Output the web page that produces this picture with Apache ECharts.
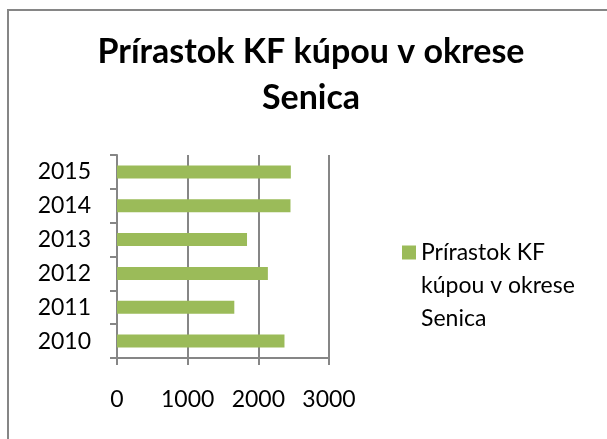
<!DOCTYPE html>
<html>
<head>
<meta charset="utf-8">
<script src="https://cdn.jsdelivr.net/npm/echarts@6/dist/echarts.min.js"></script>
<style>
  html, body { margin: 0; padding: 0; background: #fff; }
  #main { width: 607px; height: 439px; }
</style>
</head>
<body>
<div id="main"></div>
<script>
var years = ['2010', '2011', '2012', '2013', '2014', '2015'];
var values = [2370, 1660, 2135, 1840, 2455, 2460];
var xTicks = [0, 3000, 1000]; // min, max, interval
var seriesName = 'Prírastok KF kúpou v okrese Senica';
var titleText = 'Prírastok KF kúpou v okrese\nSenica';
// legend label broken the same way as in the picture; two blank lines on top
// keep the square level with the first line
var legendLines = ['', '', 'Prírastok KF', 'kúpou v okrese', 'Senica'];

var axisGray = '#868686';
var font = 'Lato';

var option = {
    animation: false,
    textStyle: { fontFamily: font },
    title: {
        text: titleText,
        left: 306,
        top: 24,
        textAlign: 'center',
        textStyle: {
            fontFamily: font,
            fontSize: 34,
            fontWeight: 'bold',
            lineHeight: 46,
            color: '#000'
        }
    },
    graphic: [{
        type: 'rect',
        shape: { x: 8, y: 10, width: 640, height: 460 },
        style: { fill: 'none', stroke: axisGray, lineWidth: 2 },
        silent: true
    }],
    legend: {
        orient: 'vertical',
        left: 397,
        top: 165,
        icon: 'rect',
        itemWidth: 14,
        itemHeight: 14,
        formatter: function () { return legendLines.join('\n'); },
        textStyle: {
            fontFamily: font,
            fontSize: 23,
            lineHeight: 33,
            color: '#000'
        },
        data: [seriesName]
    },
    grid: { left: 117, right: 278, top: 155, bottom: 81 },
    xAxis: {
        type: 'value',
        min: xTicks[0],
        max: xTicks[1],
        interval: xTicks[2],
        axisLine: { show: true, lineStyle: { color: axisGray, width: 2 } },
        axisTick: { show: true, length: 7, lineStyle: { color: axisGray, width: 2 } },
        splitLine: { show: true, lineStyle: { color: axisGray, width: 2 } },
        axisLabel: {
            fontFamily: font, fontSize: 23, lineHeight: 23, color: '#000', margin: 30,
            formatter: function (v) { return String(v); }
        }
    },
    yAxis: {
        type: 'category',
        data: years,
        axisLine: { show: true, lineStyle: { color: axisGray, width: 2 } },
        axisTick: { show: true, length: 7, lineStyle: { color: axisGray, width: 2 } },
        axisLabel: { fontFamily: font, fontSize: 23, color: '#000', margin: 26 }
    },
    series: [{
        name: seriesName,
        type: 'bar',
        barWidth: 13,
        itemStyle: { color: '#9BBB59' },
        data: values
    }]
};

var myChart = echarts.init(document.getElementById('main'));
myChart.setOption(option);
</script>
</body>
</html>
